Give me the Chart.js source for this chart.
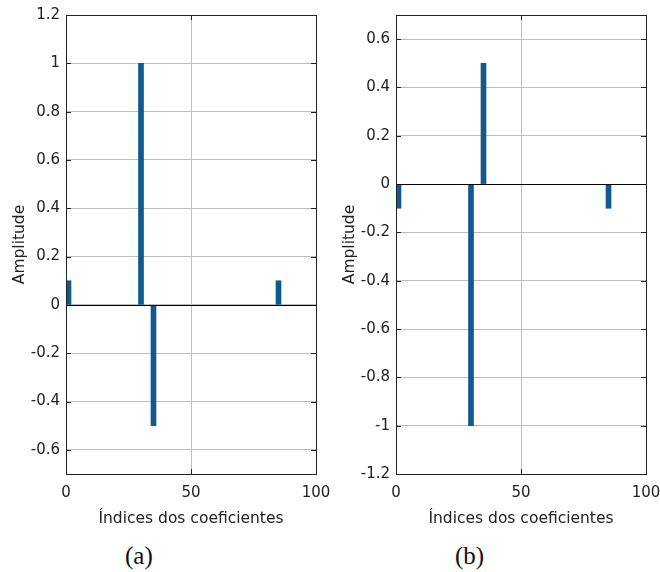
<!DOCTYPE html>
<html>
<head>
<meta charset="utf-8">
<script src="https://cdn.jsdelivr.net/npm/chart.js@4"></script>
<style>
  body { margin: 0; background: #fff; width: 660px; height: 572px; position: relative; overflow: hidden; }
  .panel { position: absolute; top: 0; width: 330px; height: 530px; }
  .caption { position: absolute; top: 542px; font-family: "Liberation Serif", "DejaVu Serif", serif; font-size: 25px; color: #111; }
</style>
</head>
<body>
<div class="panel" style="left:0"><canvas id="chart-a"></canvas></div>
<div class="panel" style="left:330px"><canvas id="chart-b"></canvas></div>
<div class="caption" style="left:125px">(a)</div>
<div class="caption" style="left:455px">(b)</div>
<script>
// coefficient indices and amplitudes
const indices = [1, 30, 35, 85];
const coefA = [0.1, 1, -0.5, 0.1];
const coefB = [-0.1, -1, 0.5, -0.1];

// axes
const xTicks = [0, 50, 100];
const yTicksA = [-0.6, -0.4, -0.2, 0, 0.2, 0.4, 0.6, 0.8, 1, 1.2];
const yTicksB = [-1.2, -1, -0.8, -0.6, -0.4, -0.2, 0, 0.2, 0.4, 0.6];
const yRangeA = [-0.7, 1.2];
const yRangeB = [-1.2, 0.7];

const tickFont = { family: 'DejaVu Sans, sans-serif', size: 15 };
const titleFont = { family: 'DejaVu Sans, sans-serif', size: 15.5 };
const barColor = '#115a8e';
const gridColor = '#bdbdbd';

// box around plot area + inward tick marks (matlab look)
const framePlugin = {
    id: 'frame',
    afterDatasetsDraw(chart) {
        const { ctx, chartArea: a, scales } = chart;
        ctx.save();
        ctx.strokeStyle = '#222';
        ctx.lineWidth = 1;
        ctx.beginPath();
        scales.x.ticks.forEach(t => {
            const px = Math.round(scales.x.getPixelForValue(t.value)) + 0.5;
            ctx.moveTo(px, a.bottom); ctx.lineTo(px, a.bottom - 5);
            ctx.moveTo(px, a.top); ctx.lineTo(px, a.top + 5);
        });
        scales.y.ticks.forEach(t => {
            const py = Math.round(scales.y.getPixelForValue(t.value)) + 0.5;
            ctx.moveTo(a.left, py); ctx.lineTo(a.left + 5, py);
            ctx.moveTo(a.right, py); ctx.lineTo(a.right - 5, py);
        });
        ctx.stroke();
        // zero baseline
        const y0 = Math.round(scales.y.getPixelForValue(0)) + 0.5;
        ctx.beginPath();
        ctx.strokeStyle = '#000';
        ctx.moveTo(a.left, y0); ctx.lineTo(a.right, y0);
        ctx.stroke();
        ctx.strokeStyle = '#222';
        ctx.strokeRect(Math.round(a.left) + 0.5, Math.round(a.top) + 0.5,
            Math.round(a.right - a.left), Math.round(a.bottom - a.top));
        ctx.restore();
    }
};

function makeChart(id, values, yTicks, yRange) {
    return new Chart(document.getElementById(id), {
        type: 'bar',
        data: {
            datasets: [{
                data: indices.map((x, i) => ({ x: x, y: values[i] })),
                backgroundColor: barColor,
                borderWidth: 0,
                barThickness: 5
            }]
        },
        options: {
            responsive: true,
            maintainAspectRatio: false,
            animation: false,
            layout: { padding: { top: 15, right: 14, left: 0, bottom: 0 } },
            plugins: { legend: { display: false }, tooltip: { enabled: false } },
            scales: {
                x: {
                    type: 'linear',
                    min: 0,
                    max: 100,
                    offset: false,
                    afterBuildTicks: s => { s.ticks = xTicks.map(v => ({ value: v })); },
                    afterFit: s => { s.height = 56; s.paddingLeft = 0; s.paddingRight = 0; },
                    grid: { color: gridColor, drawTicks: false, offset: false },
                    border: { display: false },
                    ticks: { color: '#222', font: tickFont, padding: 10, maxRotation: 0 },
                    title: { display: true, text: 'Índices dos coeficientes', color: '#222', font: titleFont, padding: { top: 0, bottom: 2 } }
                },
                y: {
                    min: yRange[0],
                    max: yRange[1],
                    afterBuildTicks: s => { s.ticks = yTicks.map(v => ({ value: v })); },
                    afterFit: s => { s.width = 66; s.paddingTop = 0; s.paddingBottom = 0; },
                    grid: { color: gridColor, drawTicks: false },
                    border: { display: false },
                    ticks: { color: '#222', font: tickFont, padding: 6, callback: v => String(Math.round(v * 10) / 10) },
                    title: { display: true, text: 'Amplitude', color: '#222', font: titleFont, padding: { top: 11, bottom: 0 } }
                }
            }
        },
        plugins: [framePlugin]
    });
}

makeChart('chart-a', coefA, yTicksA, yRangeA);
makeChart('chart-b', coefB, yTicksB, yRangeB);
</script>
</body>
</html>
